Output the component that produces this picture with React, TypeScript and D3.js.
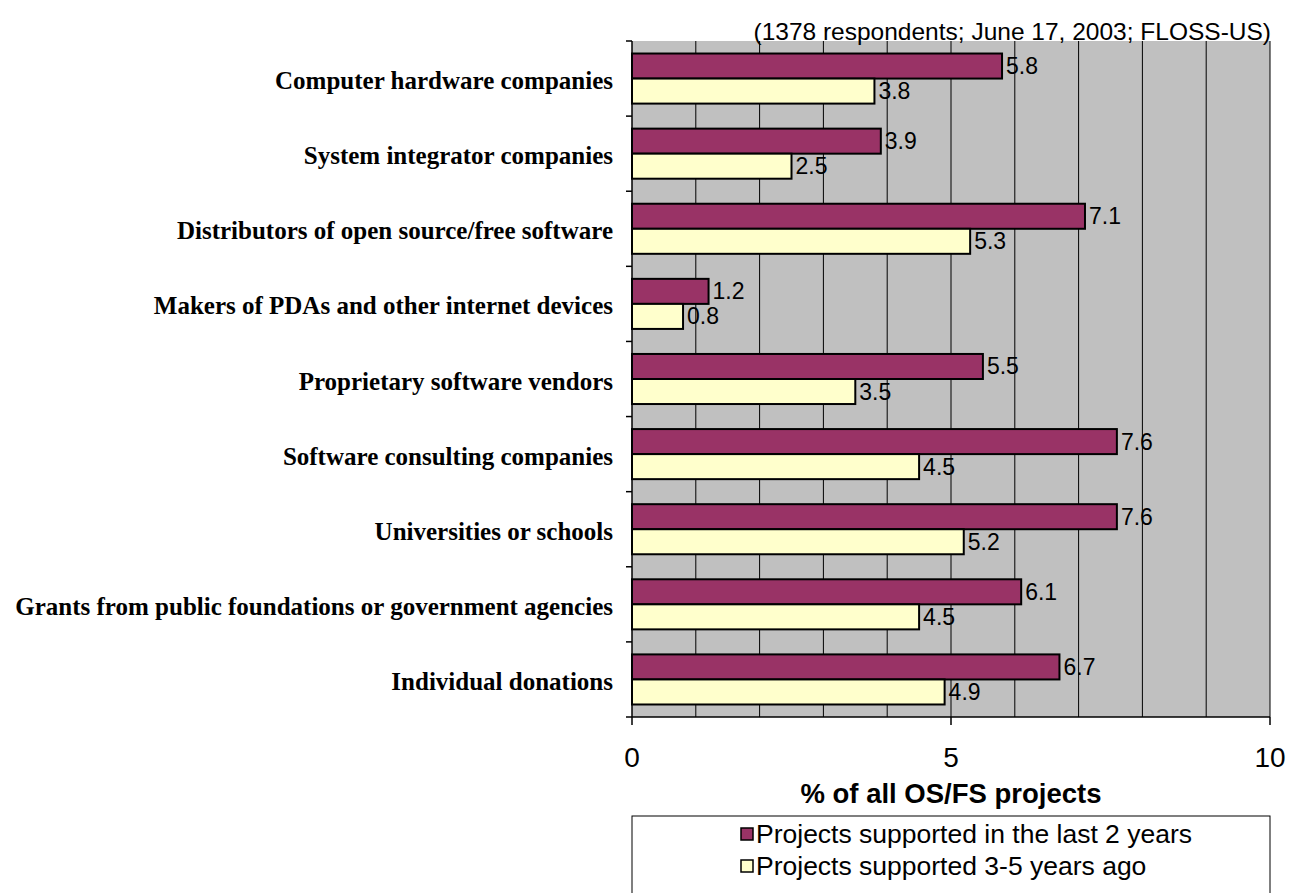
import React from "react";
import * as d3 from "d3";

const categories = [
  "Computer hardware companies",
  "System integrator companies",
  "Distributors of open source/free software",
  "Makers of PDAs and other internet devices",
  "Proprietary software vendors",
  "Software consulting companies",
  "Universities or schools",
  "Grants from public foundations or government agencies",
  "Individual donations",
];
const seriesNames = [
  "Projects supported in the last 2 years",
  "Projects supported 3-5 years ago",
];
const last2Years = [5.8, 3.9, 7.1, 1.2, 5.5, 7.6, 7.6, 6.1, 6.7];
const threeToFiveYearsAgo = [3.8, 2.5, 5.3, 0.8, 3.5, 4.5, 5.2, 4.5, 4.9];
const xTicks = [0, 5, 10];
const gridValues = [1, 2, 3, 4, 5, 6, 7, 8, 9, 10];
const title = "(1378 respondents; June 17, 2003; FLOSS-US)";
const xAxisTitle = "% of all OS/FS projects";
const colors = ["#993366", "#FFFFCC"];

export default function App() {
  const W = 1296, H = 893;
  const left = 632, right = 1270, top = 41, bottom = 717;
  const x = d3.scaleLinear().domain([0, 10]).range([left, right]);
  const y = d3.scaleBand<string>().domain(categories).range([top, bottom]).paddingInner(0).paddingOuter(0);
  const inner = d3.scaleBand<number>().domain([0, 1]).range([0, y.bandwidth()]).paddingInner(0).paddingOuter(0.5);
  const series = [last2Years, threeToFiveYearsAgo];
  const sans = "'Liberation Sans', Arial, sans-serif";
  const serif = "'Liberation Serif', 'Times New Roman', serif";
  const tickY = [...categories.map((c) => y(c)!), bottom];

  return (
    <svg width={W} height={H} style={{ position: "absolute", left: 0, top: 0, background: "#fff" }}>
      <rect x={left} y={top} width={right - left} height={bottom - top} fill="#C0C0C0" />
      {gridValues.map((g) => (
        <line key={g} x1={x(g)} x2={x(g)} y1={top} y2={bottom} stroke="#000" strokeWidth={1} />
      ))}
      {/* category axis */}
      <line x1={left} x2={left} y1={top} y2={bottom} stroke="#000" strokeWidth={1.5} />
      {tickY.map((t, i) => (
        <line key={i} x1={left - 6} x2={left} y1={t} y2={t} stroke="#000" strokeWidth={1.5} />
      ))}
      {/* value axis */}
      <line x1={left} x2={right} y1={bottom} y2={bottom} stroke="#000" strokeWidth={1.5} />
      {xTicks.map((t) => (
        <g key={t}>
          <line x1={x(t)} x2={x(t)} y1={bottom} y2={bottom + 8} stroke="#000" strokeWidth={1.5} />
          <text x={x(t)} y={757} textAnchor="middle" dominantBaseline="central" fontFamily={sans} fontSize={28}>{t}</text>
        </g>
      ))}
      {/* bars */}
      {categories.map((c, ci) =>
        series.map((s, si) => {
          const by = y(c)! + inner(si)!;
          const bh = inner.bandwidth();
          return (
            <g key={c + si}>
              <rect x={x(0)} y={by} width={x(s[ci]) - x(0)} height={bh} fill={colors[si]} stroke="#000" strokeWidth={2} />
              <text x={x(s[ci]) + 4} y={by + bh / 2} dominantBaseline="central" fontFamily={sans} fontSize={23}>
                {s[ci].toFixed(1)}
              </text>
            </g>
          );
        })
      )}
      {/* category labels */}
      {categories.map((c) => (
        <text key={c} x={613} y={y(c)! + y.bandwidth() / 2 + 2} textAnchor="end" dominantBaseline="central"
          fontFamily={serif} fontWeight="bold" fontSize={25}>{c}</text>
      ))}
      {/* title */}
      <text x={right + 1} y={31} textAnchor="end" dominantBaseline="central" fontFamily={sans} fontSize={24.5}>{title}</text>
      {/* x axis title */}
      <text x={(left + right) / 2} y={793} textAnchor="middle" dominantBaseline="central" fontFamily={sans} fontSize={27.5} fontWeight="bold">{xAxisTitle}</text>
      {/* legend */}
      <rect x={left} y={816} width={right - left} height={100} fill="#fff" stroke="#000" strokeWidth={1} />
      {seriesNames.map((n, i) => (
        <g key={n}>
          <rect x={741} y={828 + i * 32} width={12} height={12} fill={colors[i]} stroke="#000" strokeWidth={1.5} />
          <text x={756} y={834 + i * 32} dominantBaseline="central" fontFamily={sans} fontSize={26.5}>{n}</text>
        </g>
      ))}
    </svg>
  );
}
